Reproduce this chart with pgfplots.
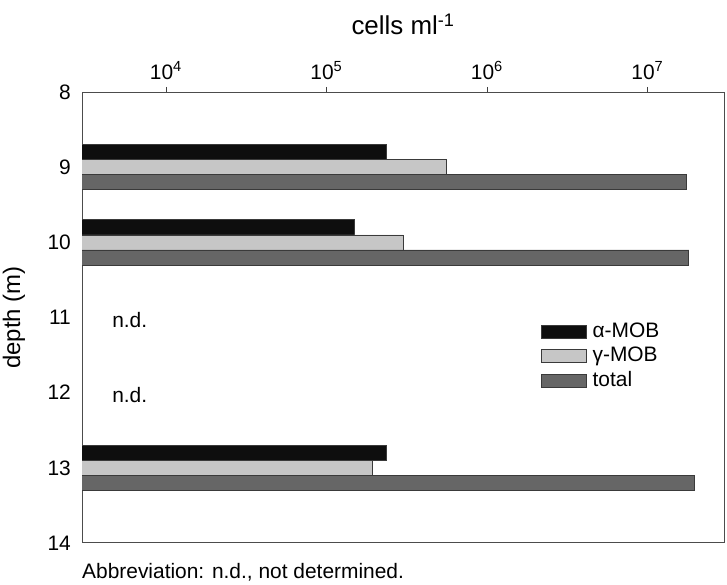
\documentclass[border=0pt]{standalone}
\usepackage{pgfplots}
\pgfplotsset{compat=1.18}
\usepackage{fontspec}
\setmainfont{Liberation Sans}
\definecolor{cblack}{HTML}{0E0E0E}
\definecolor{clight}{HTML}{C6C6C6}
\definecolor{cdark}{HTML}{666666}
\definecolor{cedge}{HTML}{3A3A3A}
\begin{document}
\fontsize{21}{25}\selectfont
\begin{tikzpicture}
\begin{axis}[
  name=ax,
  scale only axis,
  width=642bp, height=451bp,
  xmode=log, log basis x=10,
  xmin=3000, xmax=3e7,
  ymin=8, ymax=14,
  y dir=reverse,
  ytick={8,9,10,11,12,13,14},
  xtick={1e4,1e5,1e6,1e7},
  xticklabels={10\textsuperscript{4},10\textsuperscript{5},10\textsuperscript{6},10\textsuperscript{7}},
  xticklabel pos=upper,
  xtick pos=upper,
  ytick style={draw=none},
  tick align=outside,
  major tick length=5bp,
  minor tick length=3bp,
  every tick/.style={black!75, line width=0.7pt},
  axis line style={black!70, line width=1pt},
  xbar, bar width=0.2,
  xlabel={cells ml\textsuperscript{-1}},
  ylabel={depth (m)},
  xlabel style={font=\fontsize{26}{30}\selectfont, at={(rel axis cs:0.5,1)}, anchor=base, yshift=57bp},
  ylabel style={font=\fontsize{24}{28}\selectfont, at={(rel axis cs:0,0.5)}, anchor=center, yshift=68bp, inner sep=0pt},
  tick label style={font=\fontsize{21}{25}\selectfont},
  xticklabel style={anchor=base, yshift=8bp},
  yticklabel style={xshift=1bp},
  /pgf/number format/assume math mode=true,
  legend style={draw=none, fill=none, at={(rel axis cs:0.71,0.497)}, anchor=north west,
    font=\fontsize{21}{25}\selectfont, row sep=2.5bp,
    /tikz/every even column/.append style={column sep=8bp}},
  legend cell align=left,
  legend image code/.code={\draw[#1] (0bp,-6.5bp) rectangle (45bp,6.5bp);},
]
\addplot[fill=cblack, draw=cedge, line width=0.6pt, bar shift=-0.2] coordinates {
  (2.35e5,9) (1.5e5,10) (2.35e5,13)};
\addplot[fill=clight, draw=cedge, line width=0.6pt, bar shift=0] coordinates {
  (5.6e5,9) (3.0e5,10) (1.92e5,13)};
\addplot[fill=cdark, draw=cedge, line width=0.6pt, bar shift=0.2] coordinates {
  (1.74e7,9) (1.81e7,10) (1.97e7,13)};
\legend{\hspace{4bp}α-MOB, \hspace{4bp}γ-MOB, \hspace{4bp}total}
\node[anchor=west, inner sep=0] at (axis cs:4620,11.03) {n.d.};
\node[anchor=west, inner sep=0] at (axis cs:4620,12.03) {n.d.};
\end{axis}
\node[anchor=base west, inner sep=0] at ([yshift=-36bp]ax.south west) {Abbreviation: n.d., not determined.};
\pgfresetboundingbox
\path ([xshift=-82bp,yshift=92bp]ax.north west) rectangle ([xshift=645bp,yshift=-493bp]ax.north west);
\end{tikzpicture}
\end{document}
